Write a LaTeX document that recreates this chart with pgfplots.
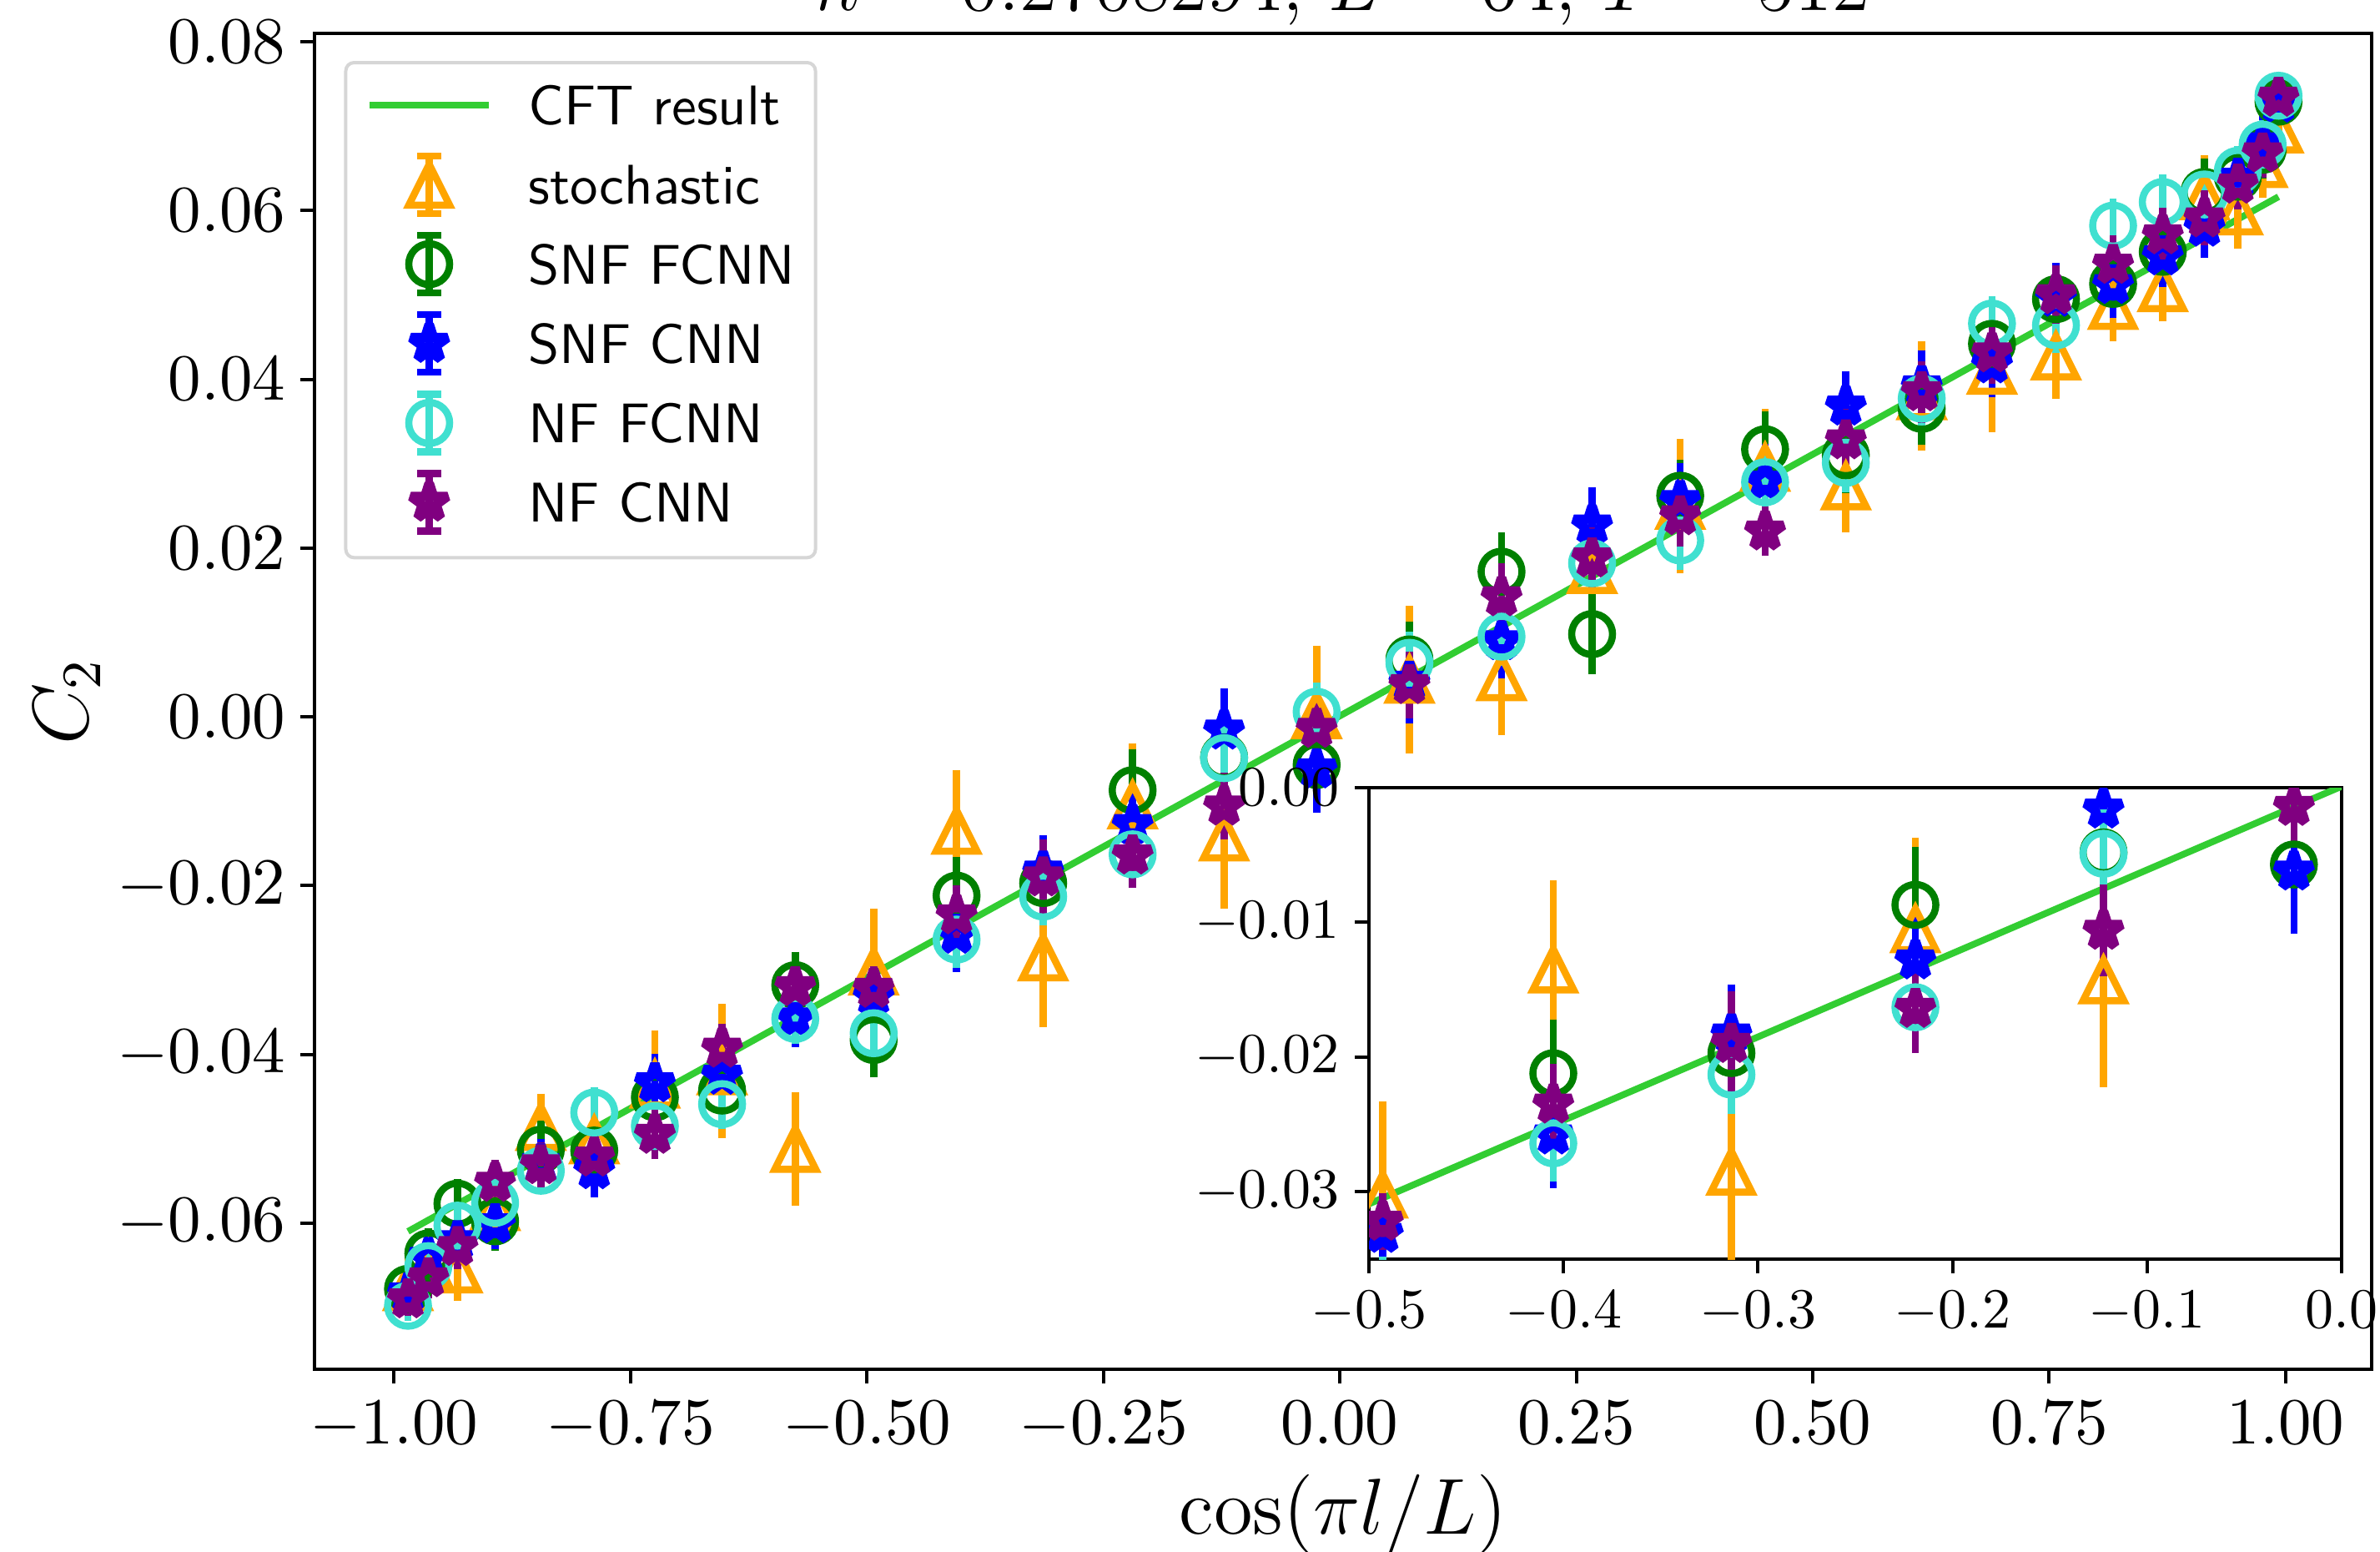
\RequirePackage{fix-cm}
\documentclass[border=0pt]{standalone}
\usepackage{pgfplots}
\usepackage{pgfplotstable}
\pgfplotsset{compat=1.18}

\definecolor{cOrange}{HTML}{FFA500}
\definecolor{cGreen}{HTML}{008000}
\definecolor{cBlue}{HTML}{0000FF}
\definecolor{cTurq}{HTML}{40E0D0}
\definecolor{cPurple}{HTML}{800080}
\definecolor{cLime}{HTML}{32CD32}
\definecolor{cLegend}{HTML}{D6D6D6}

\pgfdeclareplotmark{mtri}{%
  \pgfpathmoveto{\pgfqpoint{0pt}{\pgfplotmarksize}}%
  \pgfpathlineto{\pgfqpoint{-\pgfplotmarksize}{-\pgfplotmarksize}}%
  \pgfpathlineto{\pgfqpoint{\pgfplotmarksize}{-\pgfplotmarksize}}%
  \pgfpathclose
  \pgfusepathqstroke}
\pgfdeclareplotmark{mstar}{%
  \pgfpathmoveto{\pgfqpoint{0pt}{\pgfplotmarksize}}%
  \pgfpathlineto{\pgfqpoint{-0.22451\pgfplotmarksize}{0.30902\pgfplotmarksize}}%
  \pgfpathlineto{\pgfqpoint{-0.95106\pgfplotmarksize}{0.30902\pgfplotmarksize}}%
  \pgfpathlineto{\pgfqpoint{-0.36327\pgfplotmarksize}{-0.11803\pgfplotmarksize}}%
  \pgfpathlineto{\pgfqpoint{-0.58779\pgfplotmarksize}{-0.80902\pgfplotmarksize}}%
  \pgfpathlineto{\pgfqpoint{0pt}{-0.38197\pgfplotmarksize}}%
  \pgfpathlineto{\pgfqpoint{0.58779\pgfplotmarksize}{-0.80902\pgfplotmarksize}}%
  \pgfpathlineto{\pgfqpoint{0.36327\pgfplotmarksize}{-0.11803\pgfplotmarksize}}%
  \pgfpathlineto{\pgfqpoint{0.95106\pgfplotmarksize}{0.30902\pgfplotmarksize}}%
  \pgfpathlineto{\pgfqpoint{0.22451\pgfplotmarksize}{0.30902\pgfplotmarksize}}%
  \pgfpathclose
  \pgfusepathqstroke}

\pgfplotstableread{
x y
0.99248 0.06163
0.97570 0.06059
0.94953 0.05897
0.91421 0.05678
0.87009 0.05405
0.81758 0.05079
0.75721 0.04705
0.68954 0.04285
0.61523 0.03824
0.53500 0.03327
0.44961 0.02798
0.35990 0.02241
0.26671 0.01664
0.17096 0.01070
0.07356 0.00466
-0.02454 -0.00142
-0.12241 -0.00749
-0.21910 -0.01348
-0.31368 -0.01935
-0.40524 -0.02502
-0.49290 -0.03046
-0.57581 -0.03560
-0.65317 -0.04040
-0.72425 -0.04480
-0.78835 -0.04878
-0.84485 -0.05228
-0.89322 -0.05528
-0.93299 -0.05774
-0.96378 -0.05965
-0.98528 -0.06099
}\cft

\pgfplotstableread{
x y e
0.99248 0.0696 0.0025
0.97570 0.0655 0.0025
0.94953 0.0599 0.0030
0.91421 0.0617 0.0034
0.87009 0.0508 0.0025
0.81758 0.0487 0.0027
0.75721 0.0427 0.0036
0.68954 0.0410 0.0058
0.61523 0.0380 0.0050
0.53500 0.0273 0.0040
0.44961 0.0295 0.0055
0.35990 0.0250 0.0065
0.26671 0.0174 0.0072
0.17096 0.0047 0.0054
0.07356 0.0044 0.0073
-0.02454 0.0002 0.0068
-0.12241 -0.0143 0.0070
-0.21910 -0.0105 0.0059
-0.31368 -0.0285 0.0068
-0.40524 -0.0135 0.0057
-0.49290 -0.0302 0.0060
-0.57581 -0.0512 0.0053
-0.65317 -0.0420 0.0065
-0.72425 -0.0436 0.0050
-0.78835 -0.0502 0.0040
-0.84485 -0.0486 0.0025
-0.89322 -0.0581 0.0025
-0.93299 -0.0655 0.0023
-0.96378 -0.0649 0.0025
-0.98528 -0.0676 0.0025
}\stoch

\pgfplotstableread{
x y e
0.99248 0.0729 0.0005
0.97570 0.0672 0.0020
0.94953 0.0640 0.0020
0.91421 0.0622 0.0025
0.87009 0.0551 0.0025
0.81758 0.0513 0.0025
0.75721 0.0495 0.0025
0.68954 0.0442 0.0025
0.61523 0.0365 0.0028
0.53500 0.0310 0.0030
0.44961 0.0317 0.0030
0.35990 0.0262 0.0028
0.26671 0.0098 0.0033
0.17096 0.0172 0.0032
0.07356 0.0068 0.0030
-0.02454 -0.0057 0.0035
-0.12241 -0.0048 0.0030
-0.21910 -0.0087 0.0034
-0.31368 -0.0197 0.0034
-0.40524 -0.0212 0.0031
-0.49290 -0.0383 0.0030
-0.57581 -0.0318 0.0025
-0.65317 -0.0443 0.0025
-0.72425 -0.0451 0.0025
-0.78835 -0.0514 0.0020
-0.84485 -0.0513 0.0020
-0.89322 -0.0598 0.0020
-0.93299 -0.0577 0.0015
-0.96378 -0.0636 0.0015
-0.98528 -0.0678 0.0010
}\snffc

\pgfplotstableread{
x y e
0.99248 0.0727 0.0005
0.97570 0.0680 0.0020
0.94953 0.0638 0.0020
0.91421 0.0580 0.0022
0.87009 0.0546 0.0022
0.81758 0.0512 0.0025
0.75721 0.0497 0.0026
0.68954 0.0418 0.0025
0.61523 0.0392 0.0028
0.53500 0.0368 0.0027
0.44961 0.0279 0.0030
0.35990 0.0256 0.0030
0.26671 0.0227 0.0030
0.17096 0.0090 0.0030
0.07356 0.0042 0.0035
-0.02454 -0.0062 0.0037
-0.12241 -0.0016 0.0035
-0.21910 -0.0128 0.0030
-0.31368 -0.0183 0.0028
-0.40524 -0.0258 0.0030
-0.49290 -0.0331 0.0012
-0.57581 -0.0357 0.0020
-0.65317 -0.0425 0.0020
-0.72425 -0.0434 0.0020
-0.78835 -0.0537 0.0018
-0.84485 -0.0530 0.0015
-0.89322 -0.0601 0.0015
-0.93299 -0.0621 0.0012
-0.96378 -0.0641 0.0012
-0.98528 -0.0683 0.0010
}\snfcnn

\pgfplotstableread{
x y e
0.99248 0.0736 0.0002
0.97570 0.0678 0.0015
0.94953 0.0647 0.0015
0.91421 0.0619 0.0015
0.87009 0.0610 0.0018
0.81758 0.0582 0.0018
0.75721 0.0464 0.0018
0.68954 0.0466 0.0018
0.61523 0.0377 0.0020
0.53500 0.0301 0.0020
0.44961 0.0278 0.0020
0.35990 0.0209 0.0020
0.26671 0.0182 0.0020
0.17096 0.0095 0.0020
0.07356 0.0064 0.0022
-0.02454 0.0006 0.0020
-0.12241 -0.0049 0.0024
-0.21910 -0.0163 0.0019
-0.31368 -0.0213 0.0020
-0.40524 -0.0264 0.0019
-0.49290 -0.0375 0.0018
-0.57581 -0.0358 0.0015
-0.65317 -0.0459 0.0015
-0.72425 -0.0485 0.0015
-0.78835 -0.0469 0.0015
-0.84485 -0.0538 0.0012
-0.89322 -0.0576 0.0012
-0.93299 -0.0603 0.0010
-0.96378 -0.0651 0.0008
-0.98528 -0.0698 0.0003
}\nffc

\pgfplotstableread{
x y e
0.99248 0.0734 0.0004
0.97570 0.0668 0.0015
0.94953 0.0631 0.0015
0.91421 0.0591 0.0018
0.87009 0.0571 0.0018
0.81758 0.0536 0.0020
0.75721 0.0500 0.0020
0.68954 0.0431 0.0022
0.61523 0.0385 0.0022
0.53500 0.0328 0.0022
0.44961 0.0220 0.0015
0.35990 0.0238 0.0022
0.26671 0.0188 0.0022
0.17096 0.0142 0.0025
0.07356 0.0038 0.0025
-0.02454 -0.0014 0.0020
-0.12241 -0.0106 0.0025
-0.21910 -0.0164 0.0024
-0.31368 -0.0190 0.0030
-0.40524 -0.0235 0.0021
-0.49290 -0.0322 0.0012
-0.57581 -0.0320 0.0015
-0.65317 -0.0393 0.0015
-0.72425 -0.0495 0.0015
-0.78835 -0.0522 0.0015
-0.84485 -0.0531 0.0012
-0.89322 -0.0552 0.0012
-0.93299 -0.0628 0.0012
-0.96378 -0.0665 0.0010
-0.98528 -0.0690 0.0005
}\nfcnn

\newcommand{\legerr}[1]{%
  \draw[draw=#1, line width=1.275pt, sharp corners] (10.65pt,-1.65pt) -- (10.65pt,8.7pt)
     (8.445pt,-1.65pt) -- (12.855pt,-1.65pt) (8.445pt,8.7pt) -- (12.855pt,8.7pt);}

\pgfplotsset{
  legErr/.style={legend image code/.code={\legerr{#1}\draw[##1, sharp corners] plot coordinates {(10.65pt,3.525pt)};}},
  legLine/.style={legend image code/.code={\draw[##1, sharp corners] (0pt,3.525pt) -- (21.3pt,3.525pt);}},
  ebar/.style={draw=none, mark=none, forget plot,
    error bars/y dir=both, error bars/y explicit,
    error bars/error bar style={draw=#1, line width=1.275pt, solid},
    error bars/error mark options={draw=#1, line width=1.275pt, mark size=2.205pt, solid}},
  mk/.style n args={4}{only marks, mark size=#3, draw=#1,
    mark options={draw=#1, fill=none, line width=#4, solid, sharp corners, line join=#2}},
  common/.style={
    scale only axis, scaled ticks=false,
    line width=0.6pt,
    tick pos=left, tick align=outside, major tick length=2.55pt,
    tick style={black, line width=0.6pt},
    xticklabel shift=3pt, yticklabel shift=2.43pt,
  },
}

\newcommand{\plotall}{%
  \addplot[cLime, line width=1.2pt, mark=none, legLine] table[x=x,y=y] {\cft};
  \addplot[ebar=cOrange] table[x=x,y=y,y error=e] {\stoch};
  \addplot[ebar=cGreen] table[x=x,y=y,y error=e] {\snffc};
  \addplot[ebar=cBlue] table[x=x,y=y,y error=e] {\snfcnn};
  \addplot[ebar=cTurq] table[x=x,y=y,y error=e] {\nffc};
  \addplot[ebar=cPurple] table[x=x,y=y,y error=e] {\nfcnn};
  \addplot[mk={cOrange}{miter}{3.675pt}{1.275pt}, mark=mtri, legErr=cOrange] table[x=x,y=y] {\stoch};
  \addplot[mk={cGreen}{miter}{3.675pt}{1.275pt}, mark=o, legErr=cGreen] table[x=x,y=y] {\snffc};
  \addplot[mk={cBlue}{bevel}{3.45pt}{1.7pt}, mark=mstar, legErr=cBlue] table[x=x,y=y] {\snfcnn};
  \addplot[mk={cTurq}{miter}{3.675pt}{1.275pt}, mark=o, legErr=cTurq] table[x=x,y=y] {\nffc};
  \addplot[mk={cPurple}{bevel}{3.45pt}{1.7pt}, mark=mstar, legErr=cPurple] table[x=x,y=y] {\nfcnn};
}

\begin{document}
\begin{tikzpicture}
\begin{axis}[common,
  name=main, at={(0pt,0pt)}, anchor=north west,
  width=369.825pt, height=240.15pt,
  xmin=-1.0837, xmax=1.0910, ymin=-0.07733, ymax=0.08099,
  xtick={-1,-0.75,-0.5,-0.25,0,0.25,0.5,0.75,1},
  ytick={-0.06,-0.04,-0.02,0,0.02,0.04,0.06,0.08},
  xticklabel style={/pgf/number format/.cd, fixed, fixed zerofill, precision=2},
  yticklabel style={/pgf/number format/.cd, fixed, fixed zerofill, precision=2},
  tick label style={font=\fontsize{11.85}{13}\selectfont, inner sep=0pt},
  title={$\kappa = 0.2708294$, $L = 64$, $T = 512$},
  xlabel={$\cos(\pi l/L)$}, ylabel={$C_2$},
  every axis title/.style={at={(axis description cs:0.5,1.01749)}, anchor=base, inner sep=0pt, font=\fontsize{13.8}{16}\selectfont},
  every axis x label/.style={at={(axis description cs:0.5,-0.12305)}, anchor=base, inner sep=0pt, font=\fontsize{14.25}{16}\selectfont},
  every axis y label/.style={at={(axis description cs:-0.10363,0.5)}, rotate=90, anchor=south, inner sep=0pt, font=\fontsize{14.25}{16}\selectfont},
  legend style={at={(axis description cs:0,1)}, anchor=north west, xshift=5.25pt, yshift=-4.95pt,
    draw=cLegend, line width=0.6pt, rounded corners=1.5pt, fill=white,
    inner xsep=3.75pt, inner ysep=1.77pt, row sep=0.171pt, column sep=6.6pt,
    font=\fontsize{10.05}{12}\selectfont\sffamily,
    cells={anchor=base west},
    nodes={inner sep=0pt, text height=9.45pt, text depth=4.65pt}},
]
\plotall
\legend{CFT result, stochastic, SNF FCNN, SNF CNN, NF FCNN, NF CNN}
\end{axis}
\begin{axis}[common,
  at={(189.525pt,-135.6pt)}, anchor=north west,
  width=174.9pt, height=84.75pt,
  xmin=-0.5, xmax=0, ymin=-0.035, ymax=0,
  xtick={-0.5,-0.4,-0.3,-0.2,-0.1,0},
  ytick={-0.03,-0.02,-0.01,0},
  xticklabel style={/pgf/number format/.cd, fixed, fixed zerofill, precision=1},
  yticklabel style={/pgf/number format/.cd, fixed, fixed zerofill, precision=2},
  tick label style={font=\fontsize{10.2}{12}\selectfont, inner sep=0pt},
  axis background/.style={fill=white},
  clip marker paths=true,
]
\plotall
\end{axis}
\pgfresetboundingbox
\path[use as bounding box] (-56.625pt,6pt) rectangle (371.325pt,-272.85pt);
\end{tikzpicture}
\end{document}
